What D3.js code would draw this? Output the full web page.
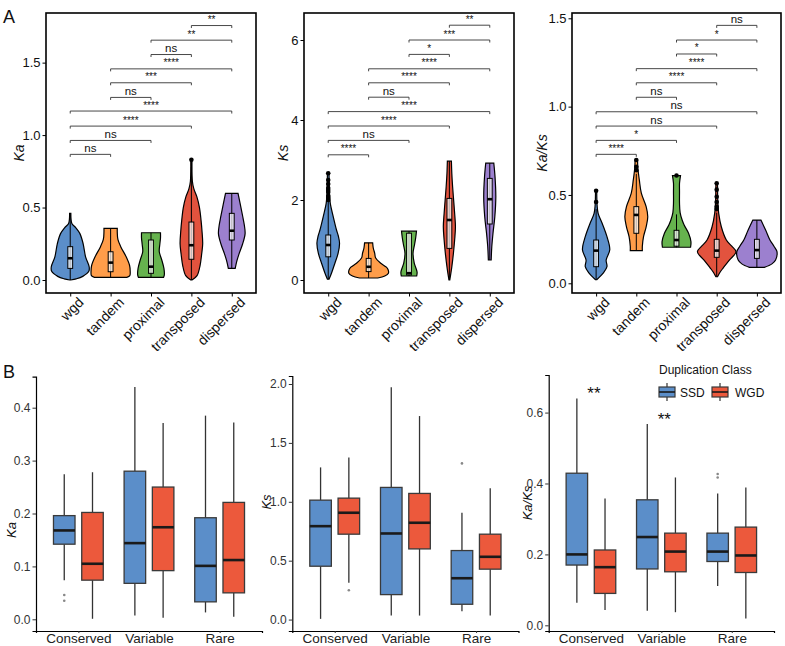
<!DOCTYPE html>
<html><head><meta charset="utf-8">
<script src="https://cdn.jsdelivr.net/npm/d3@7"></script>
<style>body{margin:0;background:#fff} svg{display:block;font-family:"Liberation Sans",Arial,sans-serif}</style>
</head><body><svg id="c" width="785" height="646"></svg>
<script>
// ---------- Panel A data ----------
const catsA = ["wgd","tandem","proximal","transposed","dispersed"];
const colorsA = ["#5b8ec9","#ff9d4a","#66b34e","#e2533e","#9c80cf"];
// violin profiles: [value, relative density]
const violinKa = [
  [[0,0.02],[0.008,0.3],[0.025,0.62],[0.06,0.92],[0.09,0.94],[0.16,0.76],[0.25,0.64],[0.32,0.48],[0.36,0.28],[0.39,0.08],[0.42,0.04],[0.46,0.03]],
  [[0.018,0.8],[0.03,0.95],[0.06,0.97],[0.10,0.94],[0.16,0.77],[0.23,0.5],[0.28,0.36],[0.33,0.33],[0.356,0.33]],
  [[0.018,0.62],[0.035,0.66],[0.08,0.64],[0.14,0.53],[0.195,0.41],[0.25,0.44],[0.29,0.47],[0.326,0.47]],
  [[0.0,0.03],[0.03,0.28],[0.10,0.43],[0.18,0.51],[0.25,0.56],[0.33,0.53],[0.41,0.48],[0.5,0.4],[0.575,0.27],[0.63,0.12],[0.68,0.05],[0.83,0.03]],
  [[0.08,0.17],[0.13,0.25],[0.18,0.36],[0.25,0.54],[0.32,0.66],[0.38,0.62],[0.44,0.54],[0.53,0.41],[0.598,0.31]]
];
const violinKs = [
  [[0.02,0.04],[0.17,0.16],[0.42,0.33],[0.67,0.49],[0.92,0.56],[1.1,0.5],[1.25,0.41],[1.58,0.25],[1.92,0.1],[2.2,0.06],[2.67,0.04]],
  [[0.05,0.45],[0.1,0.8],[0.17,0.98],[0.25,0.97],[0.32,0.88],[0.42,0.6],[0.55,0.35],[0.67,0.3],[0.8,0.23],[0.93,0.2]],
  [[0.1,0.38],[0.2,0.4],[0.42,0.26],[0.67,0.2],[0.9,0.28],[1.05,0.33],[1.22,0.37]],
  [[0.0,0.02],[0.33,0.12],[0.67,0.2],[1.0,0.26],[1.33,0.3],[1.67,0.26],[2.0,0.21],[2.33,0.16],[2.67,0.12],[2.97,0.1]],
  [[0.5,0.07],[0.83,0.1],[1.17,0.16],[1.58,0.25],[2.08,0.3],[2.58,0.26],[2.92,0.2]]
];
const violinKaKs = [
  [[0.02,0.03],[0.057,0.35],[0.094,0.54],[0.132,0.5],[0.19,0.68],[0.264,0.54],[0.34,0.3],[0.396,0.1],[0.44,0.05],[0.524,0.03]],
  [[0.185,0.3],[0.21,0.3],[0.264,0.36],[0.32,0.49],[0.377,0.57],[0.434,0.49],[0.51,0.25],[0.585,0.15],[0.65,0.08],[0.698,0.06]],
  [[0.204,0.7],[0.235,0.72],[0.283,0.6],[0.33,0.38],[0.358,0.28],[0.4,0.18],[0.453,0.15],[0.52,0.15],[0.566,0.15],[0.61,0.2]],
  [[0.037,0.04],[0.06,0.15],[0.085,0.31],[0.132,0.64],[0.179,0.96],[0.21,0.75],[0.245,0.48],[0.32,0.23],[0.396,0.1],[0.45,0.06],[0.566,0.04]],
  [[0.09,0.37],[0.11,0.75],[0.132,0.93],[0.179,1.0],[0.21,0.85],[0.245,0.65],[0.3,0.44],[0.358,0.2]]
];
// box stats: [lower whisker, q1, median, q3, upper whisker]
const boxKa = [[0,0.08,0.15,0.23,0.45],[0.018,0.057,0.12,0.195,0.356],[0.018,0.046,0.092,0.276,0.326],[0.0,0.143,0.24,0.40,0.78],[0.08,0.276,0.34,0.46,0.598]];
const boxKs = [[0.02,0.58,0.875,1.125,1.95],[0.05,0.21,0.33,0.54,0.93],[0.1,0.125,0.17,1.17,1.22],[0.0,0.79,1.5,2.04,2.97],[0.5,1.4,2.02,2.54,2.92]];
const boxKaKs = [[0.02,0.094,0.185,0.245,0.42],[0.185,0.283,0.387,0.434,0.62],[0.204,0.21,0.245,0.30,0.39],[0.037,0.147,0.185,0.249,0.40],[0.09,0.141,0.188,0.249,0.358]];
const outKa = [[],[],[],[0.83],[]];
const outKs = [[2.0,2.05,2.1,2.2,2.25,2.3,2.4,2.5,2.67],[],[],[],[]];
const outKaKs = [[0.46,0.524],[0.64,0.66,0.698],[0.61],[0.42,0.434,0.46,0.49,0.53,0.566],[]];
// pairwise comparisons
const comparisons = [[0,1],[0,2],[0,3],[0,4],[1,2],[1,3],[1,4],[2,3],[2,4],[3,4]];
const sigKa   = ["ns","ns","****","****","ns","***","****","ns","**","**"];
const sigKs   = ["****","ns","****","****","ns","****","****","*","***","**"];
const sigKaKs = ["****","*","ns","ns","ns","****","****","*","*","ns"];
const brKa   = [0.867,0.963,1.062,1.166,1.26,1.361,1.457,1.556,1.655,1.756];
const brKs   = [3.13,3.49,3.85,4.21,4.57,4.93,5.28,5.64,6.0,6.37];
const brKaKs = [0.73,0.809,0.89,0.971,1.053,1.135,1.215,1.298,1.377,1.46];

// ---------- Panel B data ----------
const catsB = ["Conserved","Variable","Rare"];
const groupsB = ["SSD","WGD"];
const colorsB = ["#5b8ec9","#ec593c"];
const bKaSSD = [[0.074,0.142,0.168,0.196,0.274],[0.007,0.068,0.144,0.28,0.439],[0.013,0.033,0.101,0.192,0.385]];
const bKaWGD = [[0.001,0.074,0.105,0.202,0.278],[0.003,0.092,0.174,0.25,0.371],[0.005,0.05,0.112,0.221,0.372]];
const oKaSSD = [[0.046,0.035],[],[]];
const oKaWGD = [[],[],[]];
const bKsSSD = [[0.006,0.453,0.793,1.014,1.292],[0.034,0.212,0.731,1.122,1.972],[0.071,0.13,0.351,0.586,0.907]];
const bKsWGD = [[0.312,0.725,0.907,1.031,1.377],[0.034,0.6,0.822,1.071,1.728],[0.034,0.428,0.533,0.725,1.116]];
const oKsSSD = [[],[],[1.326]];
const oKsWGD = [[0.249],[],[]];
const bKaKsSSD = [[0.064,0.17,0.2,0.429,0.64],[0.041,0.159,0.249,0.354,0.568],[0.111,0.18,0.208,0.26,0.372]];
const bKaKsWGD = [[0.043,0.09,0.164,0.2125,0.358],[0.037,0.151,0.208,0.26,0.417],[0.019,0.149,0.197,0.277,0.389]];
const oKaKsSSD = [[],[],[0.417,0.427]];
const oKaKsWGD = [[],[],[]];
const sigB = ["**","**",""];
const sigBy = [0.664,0.59,null];

const svg = d3.select("#c");

function panelA(o){
  const g = svg.append("g");
  const x = d3.scalePoint().domain(catsA).range([o.x0,o.x1]).padding(0.6);
  const y = d3.scaleLinear().domain(o.dom).range([o.y1,o.y0]);
  const step = x.step();
  const w = d3.scaleLinear().domain([0,1]).range([0, step*0.5]);
  const ya = g.append("g").attr("transform",`translate(${o.x0},0)`)
    .call(d3.axisLeft(y).tickValues(o.ticks).tickFormat(o.fmt).tickSize(3.5).tickPadding(2));
  ya.select(".domain").remove();
  ya.selectAll("line").attr("stroke","#000").attr("stroke-width",1);
  ya.selectAll("text").attr("font-size",13).attr("fill","#111").attr("font-family","Liberation Sans, Arial");
  const xa = g.append("g").attr("transform",`translate(0,${o.y1})`)
    .call(d3.axisBottom(x).tickSize(3.5).tickFormat(""));
  xa.select(".domain").remove();
  xa.selectAll("line").attr("stroke","#000");
  catsA.forEach(c=>{
    g.append("text").attr("transform",`translate(${x(c)+7},${o.y1+3}) rotate(-45)`)
      .attr("text-anchor","end").attr("dominant-baseline","hanging")
      .attr("font-size",14).attr("fill","#111").text(c);
  });
  const area = d3.area().curve(d3.curveCatmullRom.alpha(0.5)).y(d=>y(d[0]));
  o.vio.forEach((prof,i)=>{
    const cx = x(catsA[i]);
    g.append("path").datum(prof)
      .attr("d", area.x0(d=>cx-w(d[1])).x1(d=>cx+w(d[1])))
      .attr("fill",colorsA[i]).attr("stroke","#000").attr("stroke-width",1.2);
  });
  const bw = step*0.12;
  o.box.forEach((b,i)=>{
    const cx = x(catsA[i]);
    g.append("line").attr("x1",cx).attr("x2",cx).attr("y1",y(b[0])).attr("y2",y(b[4])).attr("stroke","#000").attr("stroke-width",1);
    g.append("rect").attr("x",cx-bw/2).attr("width",bw).attr("y",y(b[3])).attr("height",y(b[1])-y(b[3]))
      .attr("fill","#fff").attr("fill-opacity",0.72).attr("stroke","#000").attr("stroke-width",1);
    g.append("line").attr("x1",cx-bw/2).attr("x2",cx+bw/2).attr("y1",y(b[2])).attr("y2",y(b[2])).attr("stroke","#000").attr("stroke-width",2.6);
    o.out[i].forEach(v=>{
      g.append("circle").attr("cx",cx).attr("cy",y(v)).attr("r",2.3).attr("fill","#000");
    });
  });
  comparisons.forEach((p,k)=>{
    const xa1 = x(catsA[p[0]]), xa2 = x(catsA[p[1]]), yy = y(o.br[k]);
    g.append("path").attr("d",`M${xa1},${yy+2.5}V${yy}H${xa2}V${yy+2.5}`)
      .attr("fill","none").attr("stroke","#333").attr("stroke-width",0.9);
    const lab = o.sig[k];
    g.append("text").attr("x",(xa1+xa2)/2).attr("y",yy-2.5).attr("text-anchor","middle")
      .attr("font-size", lab==="ns"?11.5:10).attr("fill","#111").text(lab);
  });
  g.append("rect").attr("x",o.x0).attr("y",o.y0).attr("width",o.x1-o.x0).attr("height",o.y1-o.y0)
    .attr("fill","none").attr("stroke","#000").attr("stroke-width",1.6);
  g.append("text").attr("transform",`translate(${o.lx},${(o.y0+o.y1)/2}) rotate(-90)`)
    .attr("text-anchor","middle").attr("dominant-baseline","central")
    .attr("font-size",14).attr("font-style","italic").attr("fill","#111").text(o.label);
}

const fmt1 = d3.format(".1f"), fmt0 = d3.format("d");
panelA({x0:46,x1:256,y0:13,y1:293,dom:[-0.0897,1.8425],ticks:[0,0.5,1,1.5],fmt:fmt1,vio:violinKa,box:boxKa,out:outKa,sig:sigKa,br:brKa,label:"Ka",lx:19});
panelA({x0:304,x1:514,y0:13,y1:293,dom:[-0.325,6.675],ticks:[0,2,4,6],fmt:fmt0,vio:violinKs,box:boxKs,out:outKs,sig:sigKs,br:brKs,label:"Ks",lx:283});
panelA({x0:572,x1:781,y0:13,y1:293,dom:[-0.0549,1.53],ticks:[0,0.5,1,1.5],fmt:fmt1,vio:violinKaKs,box:boxKaKs,out:outKaKs,sig:sigKaKs,br:brKaKs,label:"Ka/Ks",lx:542});

function panelB(o){
  const g = svg.append("g");
  const x = d3.scalePoint().domain(catsB).range([o.x0,o.x1]).padding(0.6);
  const y = d3.scaleLinear().domain(o.dom).range([o.y1,o.y0]);
  const step = x.step();
  const off = d3.scalePoint().domain(groupsB).range([-0.2*step,0.2*step]);
  const bw = 0.305*step;
  const ya = g.append("g").attr("transform",`translate(${o.x0},0)`)
    .call(d3.axisLeft(y).tickValues(o.ticks).tickFormat(fmt1).tickSize(3.5).tickPadding(2));
  ya.select(".domain").attr("stroke","#000").attr("stroke-width",1.2);
  ya.selectAll("line").attr("stroke","#333");
  ya.selectAll("text").attr("font-size",12).attr("fill","#333");
  const xa = g.append("g").attr("transform",`translate(0,${o.y1})`)
    .call(d3.axisBottom(x).tickSize(2).tickPadding(0.5));
  xa.select(".domain").attr("stroke","#000").attr("stroke-width",1.2);
  xa.selectAll("line").attr("stroke","#333");
  xa.selectAll("text").attr("font-size",13.5).attr("fill","#222");
  const sets = [[o.ssd,o.ossd],[o.wgd,o.owgd]];
  sets.forEach((s,gi)=>{
    s[0].forEach((b,i)=>{
      const cx = x(catsB[i]) + off(groupsB[gi]);
      g.append("line").attr("x1",cx).attr("x2",cx).attr("y1",y(b[0])).attr("y2",y(b[1])).attr("stroke","#333").attr("stroke-width",1.3);
      g.append("line").attr("x1",cx).attr("x2",cx).attr("y1",y(b[3])).attr("y2",y(b[4])).attr("stroke","#333").attr("stroke-width",1.3);
      g.append("rect").attr("x",cx-bw/2).attr("width",bw).attr("y",y(b[3])).attr("height",y(b[1])-y(b[3]))
        .attr("fill",colorsB[gi]).attr("stroke","#3a3a3a").attr("stroke-width",1.3);
      g.append("line").attr("x1",cx-bw/2).attr("x2",cx+bw/2).attr("y1",y(b[2])).attr("y2",y(b[2])).attr("stroke","#1a1a1a").attr("stroke-width",2.6);
      s[1][i].forEach(v=>{
        g.append("circle").attr("cx",cx).attr("cy",y(v)).attr("r",1.3).attr("fill","#888");
      });
    });
  });
  if(o.sig){
    o.sig.forEach((t,i)=>{ if(t) g.append("text").attr("x",x(catsB[i])+3).attr("y",y(o.sigy[i])+9)
      .attr("text-anchor","middle").attr("font-size",17).attr("fill","#111").text(t); });
  }
  g.append("text").attr("transform",`translate(${o.lx},${o.ly}) rotate(-90)`)
    .attr("text-anchor","middle").attr("dominant-baseline","central")
    .attr("font-size",13).attr("font-style","italic").attr("fill","#111").text(o.label);
}
panelB({x0:36,x1:262,y0:376.7,y1:631,dom:[-0.0221,0.4586],ticks:[0,0.1,0.2,0.3,0.4],ssd:bKaSSD,wgd:bKaWGD,ossd:oKaSSD,owgd:oKaWGD,label:"Ka",lx:11,ly:530});
panelB({x0:292.3,x1:518.5,y0:376,y1:631,dom:[-0.097,2.068],ticks:[0,0.5,1,1.5,2],ssd:bKsSSD,wgd:bKsWGD,ossd:oKsSSD,owgd:oKsWGD,label:"Ks",lx:266,ly:502});
panelB({x0:548.7,x1:774,y0:375,y1:631,dom:[-0.016,0.706],ticks:[0,0.2,0.4,0.6],ssd:bKaKsSSD,wgd:bKaKsWGD,ossd:oKaKsSSD,owgd:oKaKsWGD,label:"Ka/Ks",lx:527,ly:503,sig:sigB,sigy:sigBy});

const lg = svg.append("g");
lg.append("text").attr("x",659).attr("y",373.5).attr("font-size",12).attr("fill","#111").text("Duplication Class");
const legX = [659,712], legTX = [680,735];
groupsB.forEach((gname,i)=>{
  const lx = legX[i];
  lg.append("line").attr("x1",lx+8).attr("x2",lx+8).attr("y1",383).attr("y2",401).attr("stroke","#333").attr("stroke-width",1.2);
  lg.append("rect").attr("x",lx).attr("y",387).attr("width",16).attr("height",10).attr("fill",colorsB[i]).attr("stroke","#3a3a3a").attr("stroke-width",1.2);
  lg.append("line").attr("x1",lx).attr("x2",lx+16).attr("y1",392).attr("y2",392).attr("stroke","#1a1a1a").attr("stroke-width",1.6);
  lg.append("text").attr("x",legTX[i]).attr("y",396.5).attr("font-size",12).attr("fill","#111").text(gname);
});

svg.append("text").attr("x",3).attr("y",23).attr("font-size",18).attr("fill","#111").text("A");
svg.append("text").attr("x",3).attr("y",378).attr("font-size",18).attr("fill","#111").text("B");
</script></body></html>
